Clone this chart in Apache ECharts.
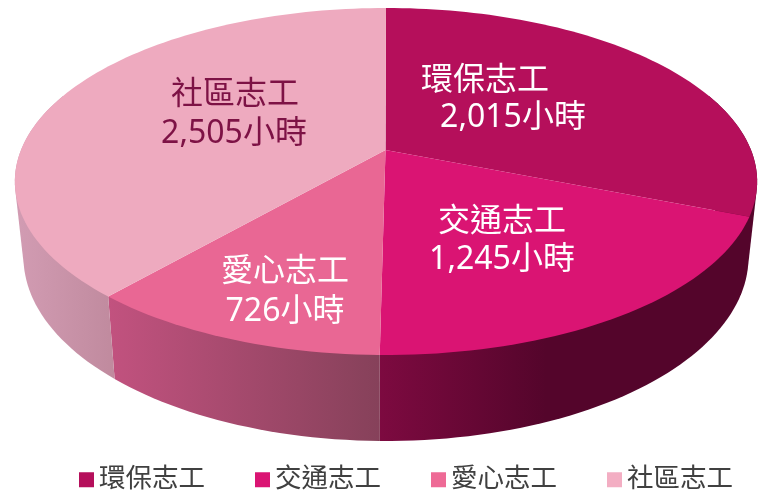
<!DOCTYPE html>
<html><head><meta charset="utf-8">
<style>html,body{margin:0;padding:0;background:#fff}#c{width:760px;height:497px}</style>
<script src="https://cdn.jsdelivr.net/npm/echarts@6/dist/echarts.min.js"></script>
</head><body><div id="c"></div>
<script>
var categories = ['環保志工','交通志工','愛心志工','社區志工'];
var hours = [2015,1245,726,2505];
var topColors = ['#b50f5b','#da1473','#e96794','#eeaabf'];
var legendColors = ['#b50f5b','#da1473','#ee6a96','#f3aec3'];
var unit = '小時';

var total = hours.reduce(function(a,b){return a+b;},0);
var FONT = '"Noto Sans","Noto Sans CJK TC",sans-serif';
// perspective projection of the disc
var CX = 386, PERSP = -0.1816;
var TOP = {r:365, p:150, q:140.55};
var BOT = {r:356.5, p:223.6, q:137.3};
function proj(pl, deg){
  var t = deg*Math.PI/180, u = Math.sin(t), v = -Math.cos(t), w = 1+PERSP*v;
  return [CX+pl.r*u/w, (pl.p+pl.q*v)/w];
}
function arc(pl,a,b){
  var n = Math.max(2,Math.ceil(Math.abs(b-a)/1.5)), pts=[];
  for(var i=0;i<=n;i++) pts.push(proj(pl,a+(b-a)*i/n));
  return pts;
}
function hull(points){
  var p = points.slice().sort(function(a,b){return a[0]-b[0]||a[1]-b[1];});
  function cross(o,a,b){return (a[0]-o[0])*(b[1]-o[1])-(a[1]-o[1])*(b[0]-o[0]);}
  var lo=[],up=[],i;
  for(i=0;i<p.length;i++){while(lo.length>1&&cross(lo[lo.length-2],lo[lo.length-1],p[i])<=0)lo.pop();lo.push(p[i]);}
  for(i=p.length-1;i>=0;i--){while(up.length>1&&cross(up[up.length-2],up[up.length-1],p[i])<=0)up.pop();up.push(p[i]);}
  lo.pop();up.pop();
  return lo.concat(up);
}
function grad(stops){
  return {type:'linear',x:0,y:0,x2:1,y2:0,global:false,
    colorStops:stops.map(function(s){return {offset:s[0],color:s[1]};})};
}
var wallFills = [
  '#54052b',
  grad([[0,'#7d0a40'],[0.45,'#54052b'],[1,'#54052b']]),
  grad([[0,'#c2527f'],[1,'#86415a']]),
  grad([[0,'#d29cb3'],[1,'#c08a9e']])
];
var labelStyle = [
  {color:'#fff', lines:[[485,81],[513,118]]},
  {color:'#fff', lines:[[502,222],[502,260]]},
  {color:'#fff', lines:[[285,272],[285,312]]},
  {color:'#7d1245', lines:[[235,95],[234,134]]}
];
var VIS_FROM = 70, VIS_TO = 290;

function sliceRender(idx){
  return function(){
    var start = 0;
    for(var i=0;i<idx;i++) start += hours[i]/total*360;
    var end = start + hours[idx]/total*360;
    var children = [];
    var a = Math.max(start,VIS_FROM), b = Math.min(end,VIS_TO);
    if(b>a){
      var wall = hull(arc(TOP,a,b).concat(arc(BOT,a,b)));
      children.push({type:'polygon',shape:{points:wall},style:{fill:wallFills[idx]},silent:true});
    }
    var top = [[CX-0.5,TOP.p]].concat(arc(TOP,start,end));
    children.push({type:'polygon',shape:{points:top},style:{fill:topColors[idx]},silent:true});
    var ls = labelStyle[idx];
    var texts = [categories[idx], hours[idx].toLocaleString('en-US')+unit];
    texts.forEach(function(t,k){
      children.push({type:'text',z2:10,silent:true,style:{
        text:t,x:ls.lines[k][0],y:ls.lines[k][1],fill:ls.color,
        font:'32px '+FONT,align:'center',verticalAlign:'middle'}});
    });
    return {type:'group',children:children};
  };
}
var series = categories.map(function(name,i){
  return {type:'custom',name:name,coordinateSystem:'none',renderItem:sliceRender(i),
    data:[{name:name,value:[hours[i]]}],itemStyle:{color:legendColors[i]},animation:false};
});
var chart = echarts.init(document.getElementById('c'),null,{renderer:'canvas'});
chart.setOption({
  animation:false,
  legend:{show:true,data:categories,left:79,top:466.5,padding:0,itemWidth:15,itemHeight:15,itemGap:50,icon:'rect',
    selectedMode:false,
    textStyle:{fontFamily:FONT,fontSize:26.5,color:'#404040',padding:[0,0,16,0]}},
  series:series
});
</script></body></html>
